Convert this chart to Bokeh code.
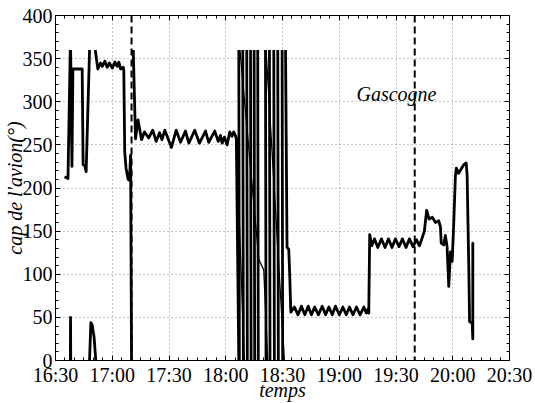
import numpy as np
from bokeh.plotting import figure
from bokeh.models import Range1d, LinearAxis, FixedTicker, Span, Label, ColumnDataSource
from bokeh.embed import file_html
from bokeh.resources import INLINE

nan = float("nan")

# time in minutes after 16:30, heading in degrees (nan = break at 0/360 wrap)
temps_min = [
    4.8, 6.6, 7.8, nan,
    7.85, 7.95, 8.05, nan,
    8.0, 8.7, 9.2, 14.1, 14.6, 15.5, 16.2, 18.0, nan,
    18.0, 18.7, 19.4, 20.4, 21.3, nan,
    21.0, 22.4, 23.8, 24.7, 26.1, 27.3, 28.5, 30.0, 31.4, 32.6, 33.5, 34.4, 35.8, 36.1,
    36.6, 37.3, 38.4, 39.1, 39.7, 40.2, nan,
    41.1, 42.3, 43.6, 45.5, 47.0, 49.3, 51.4, 53.2, 55.0, 56.3, 57.8, 61.3, 63.8, 66.1,
    68.7, 70.5, 73.6, 76.1, 79.3, 81.0, 84.2, 86.0, 87.2, 88.1, 89.3, 90.7, 92.1, 93.3,
    94.2, 95.1, 95.6, 96.9, nan,
    96.9, 97.2, nan, 99.0, 99.3, nan, 101.1, 101.4, nan, 103.1, 103.4, nan,
    105.0, 105.3, nan, 106.9, 107.2, nan,
    111.0, 111.3, nan, 113.1, 113.4, nan, 115.4, 115.7, nan, 117.5, 117.8, nan,
    119.8, 120.1, nan,
    121.6, 122.4, 123.3, 123.8, 124.4, 126.3, 128.2, 130.0, 131.8, 133.6, 135.3, 137.0,
    139.0, 141.0, 142.8, 144.5, 146.3, 148.0, 150.0, 151.9, 153.7, 155.4, 157.2, 159.1,
    161.0, 163.0, 164.3, 165.3, 165.6, 166.1, 167.2, 168.6, 170.4, 172.3, 174.2, 176.0,
    177.9, 179.7, 181.6, 183.4, 185.3, 187.1, 189.0, 190.8, 192.4, 193.5, 195.0, 196.2,
    197.5, 199.2, 200.9, 202.6, 203.5, 203.9, 205.2, 206.1, 207.0, 207.9, 208.8, 209.7,
    210.5, 211.4, 211.9, 213.1, 215.8, 217.1, 217.6, 218.5, 218.9, 220.3, 220.6, 220.6,
    221.0,
]
cap_deg = [
    213, 211, 360, nan,
    0, 50, 0, nan,
    360, 225, 338, 338, 227, 226, 219, 360, nan,
    0, 44, 41, 27, 0, nan,
    360, 338, 345, 341, 347, 340, 345, 339, 346, 341, 346, 338, 340, 337,
    242, 223, 210, 209, 238, 0, nan,
    360, 257, 279, 256, 265, 258, 267, 254, 264, 256, 267, 247, 267, 253,
    266, 252, 267, 252, 266, 253, 266, 254, 261, 252, 259, 250, 265, 260,
    265, 261, 257, 0, nan,
    360, 0, nan, 360, 0, nan, 360, 0, nan, 360, 0, nan,
    360, 0, nan, 360, 0, nan,
    360, 0, nan, 360, 0, nan, 360, 0, nan, 360, 0, nan,
    360, 0, nan,
    360, 131, 129, 100, 56, 62, 53, 63, 53, 63, 53, 62,
    53, 63, 53, 62, 53, 63, 53, 62, 53, 62, 53, 62,
    53, 62, 55, 60, 55, 146, 133, 141, 131, 141, 131, 141,
    131, 141, 132, 141, 131, 141, 132, 140, 133, 140, 150, 174,
    164, 166, 160, 162, 155, 136, 134, 145, 132, 86, 126, 115,
    158, 214, 223, 217, 227, 229, 215, 105, 45, 43, 25, 136,
    137,
]

# slow drifts drawn through the circling phase
virage_min = [95.6, 99.8, nan, 97.5, 107.5, 110.1, 112.2, nan, 111.3, 121.0]
virage_deg = [257, 0, nan, 360, 117, 105, 0, nan, 360, 0]

evenements_min = [40.2, 189.9]
zone_label = "Gascogne"
zone_pos = (159.1, 308.7)

x_ticks = [0, 30, 60, 90, 120, 150, 180, 210, 240]
x_tick_labels = ["16:30", "17:00", "17:30", "18:00", "18:30", "19:00", "19:30", "20:00", "20:30"]
y_ticks = [0, 50, 100, 150, 200, 250, 300, 350, 400]
x_title = "temps"
y_title = "cap de l'avion(°)"

FONT = "Liberation Serif"
FS = "20px"

p = figure(width=535, height=403, output_backend="svg", toolbar_location=None,
           x_range=Range1d(0, 240), y_range=Range1d(0, 400),
           min_border_left=55, min_border_right=26, min_border_top=15, min_border_bottom=37)
p.outline_line_color = "black"
p.background_fill_color = "white"
p.border_fill_color = "white"

p.add_layout(LinearAxis(), "above")
p.add_layout(LinearAxis(), "right")

xt = FixedTicker(ticks=x_ticks, minor_ticks=list(np.arange(0, 241, 5)))
yt = FixedTicker(ticks=y_ticks, minor_ticks=list(np.arange(0, 401, 10)))

for ax in p.xaxis:
    ax.ticker = xt
for ax in p.yaxis:
    ax.ticker = yt

for ax in list(p.xaxis) + list(p.yaxis):
    ax.major_tick_in = 5
    ax.major_tick_out = 0
    ax.minor_tick_in = 3
    ax.minor_tick_out = 0
    ax.axis_line_color = "black"
    ax.major_tick_line_color = "black"
    ax.minor_tick_line_color = "black"
    ax.major_label_text_font = FONT
    ax.major_label_text_font_size = FS
    ax.major_label_text_color = "black"
    ax.major_label_standoff = 3
    ax.axis_label_text_font = FONT
    ax.axis_label_text_font_size = FS
    ax.axis_label_text_font_style = "italic"
    ax.axis_label_text_color = "black"

bottom = p.below[0]
bottom.major_label_overrides = {t: l for t, l in zip(x_ticks, x_tick_labels)}
bottom.axis_label = x_title
bottom.axis_label_standoff = -10

left = p.left[0]
left.axis_label = y_title
left.axis_label_standoff = -6

p.above[0].major_label_overrides = {t: "" for t in x_ticks}
p.above[0].major_label_standoff = 0
p.right[0].major_label_overrides = {t: "" for t in y_ticks}
p.right[0].major_label_standoff = 0

for g in (p.xgrid, p.ygrid):
    g.grid_line_color = "#8a8a8a"
    g.grid_line_dash = "1 3"
    g.grid_line_width = 1

src = ColumnDataSource(data=dict(t=np.array(temps_min, dtype=float), cap=np.array(cap_deg, dtype=float)))
p.line("t", "cap", source=src, line_color="black", line_width=2.8, line_join="round")

src2 = ColumnDataSource(data=dict(t=np.array(virage_min, dtype=float), cap=np.array(virage_deg, dtype=float)))
p.line("t", "cap", source=src2, line_color="black", line_width=1.3)

for ev in evenements_min:
    p.add_layout(Span(location=ev, dimension="height", line_color="black",
                      line_width=2, line_dash="7 4"))

p.add_layout(Label(x=zone_pos[0], y=zone_pos[1], text=zone_label, text_font=FONT,
                   text_font_style="italic", text_font_size=FS, text_color="black",
                   text_baseline="alphabetic"))

open("out.html", "w").write(file_html(p, INLINE))
